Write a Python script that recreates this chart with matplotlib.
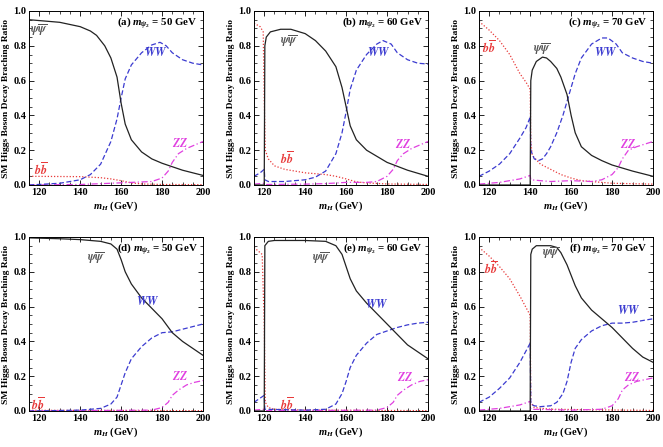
import matplotlib
matplotlib.use("Agg")
import matplotlib.pyplot as plt
from matplotlib.ticker import MultipleLocator, FormatStrFormatter

plt.rcParams['font.family'] = ['Liberation Serif', 'DejaVu Serif']
plt.rcParams['font.weight'] = 'bold'
plt.rcParams['mathtext.fontset'] = 'custom'
plt.rcParams['mathtext.it'] = 'Liberation Serif:italic:bold'
plt.rcParams['mathtext.rm'] = 'Liberation Serif:bold'
plt.rcParams['mathtext.bf'] = 'Liberation Serif:bold'

# ---------------- data: panel (a) m=50, top row ----------------
a_psi_x = [115, 120, 130, 140, 145, 148, 152, 155, 158, 160, 162, 165, 170, 175, 180, 190, 200]
a_psi_y = [0.95, 0.945, 0.935, 0.91, 0.885, 0.86, 0.80, 0.73, 0.62, 0.47, 0.35, 0.26, 0.19, 0.15, 0.125, 0.085, 0.055]
a_ww_x = [115, 130, 140, 145, 150, 155, 158, 160, 162, 165, 170, 175, 179, 182, 185, 190, 195, 200]
a_ww_y = [0.0, 0.01, 0.03, 0.06, 0.12, 0.25, 0.38, 0.50, 0.61, 0.69, 0.76, 0.805, 0.82, 0.80, 0.76, 0.72, 0.70, 0.69]
a_zz_x = [115, 140, 155, 165, 175, 180, 183, 185, 188, 192, 196, 200]
a_zz_y = [0.0, 0.003, 0.01, 0.015, 0.02, 0.04, 0.08, 0.13, 0.18, 0.21, 0.23, 0.25]
a_bb_x = [115, 140, 150, 155, 160, 165, 170, 180, 200]
a_bb_y = [0.05, 0.048, 0.042, 0.035, 0.025, 0.012, 0.006, 0.003, 0.002]

# ---------------- panel (b) m=60 ----------------
b_psi_x = [115, 120, 120.3, 121, 123, 128, 133, 140, 145, 150, 155, 158, 160, 162, 165, 170, 180, 190, 200]
b_psi_y = [0.0, 0.0, 0.80, 0.85, 0.88, 0.895, 0.895, 0.87, 0.83, 0.77, 0.68, 0.56, 0.45, 0.34, 0.26, 0.20, 0.13, 0.085, 0.05]
b_ww_x = [115, 118, 120, 120.3, 122, 130, 140, 145, 150, 155, 158, 160, 162, 165, 170, 175, 178, 182, 185, 190, 195, 200]
b_ww_y = [0.05, 0.07, 0.09, 0.03, 0.02, 0.02, 0.03, 0.045, 0.08, 0.18, 0.30, 0.42, 0.55, 0.66, 0.75, 0.81, 0.83, 0.81, 0.76, 0.72, 0.70, 0.695]
b_zz_x = [115, 120, 121, 140, 150, 160, 170, 175, 180, 183, 185, 188, 192, 196, 200]
b_zz_y = [0.005, 0.01, 0.003, 0.005, 0.008, 0.015, 0.015, 0.02, 0.05, 0.09, 0.14, 0.18, 0.21, 0.23, 0.25]
b_bb_x = [115, 118, 119.5, 120, 120.5, 122, 125, 130, 140, 150, 155, 160, 165, 170, 180, 200]
b_bb_y = [0.93, 0.91, 0.88, 0.5, 0.2, 0.15, 0.11, 0.09, 0.07, 0.06, 0.05, 0.035, 0.018, 0.012, 0.006, 0.003]

# ---------------- panel (c) m=70 ----------------
c_psi_x = [115, 140, 140.3, 141, 143, 146, 148, 150, 153, 155, 158, 160, 162, 165, 170, 175, 180, 190, 200]
c_psi_y = [0.0, 0.0, 0.60, 0.66, 0.71, 0.735, 0.73, 0.71, 0.67, 0.62, 0.52, 0.40, 0.30, 0.22, 0.17, 0.14, 0.115, 0.08, 0.05]
c_ww_x = [115, 120, 125, 130, 135, 138, 140, 140.3, 142, 144, 146, 148, 150, 153, 156, 158, 160, 162, 165, 170, 175, 178, 182, 185, 190, 195, 200]
c_ww_y = [0.05, 0.08, 0.12, 0.18, 0.27, 0.33, 0.39, 0.20, 0.15, 0.14, 0.15, 0.18, 0.22, 0.30, 0.40, 0.48, 0.56, 0.64, 0.73, 0.81, 0.845, 0.845, 0.81, 0.76, 0.73, 0.71, 0.70]
c_zz_x = [115, 125, 135, 140, 140.3, 145, 150, 160, 170, 175, 180, 183, 185, 188, 192, 196, 200]
c_zz_y = [0.005, 0.015, 0.035, 0.055, 0.03, 0.025, 0.02, 0.025, 0.02, 0.03, 0.06, 0.10, 0.15, 0.20, 0.22, 0.235, 0.25]
c_bb_x = [115, 120, 125, 130, 135, 138, 140, 140.3, 141, 145, 150, 155, 160, 165, 170, 180, 200]
c_bb_y = [0.94, 0.89, 0.83, 0.75, 0.64, 0.59, 0.55, 0.25, 0.17, 0.12, 0.09, 0.06, 0.04, 0.025, 0.02, 0.01, 0.005]

# ---------------- panel (d) m=50, bottom row ----------------
d_psi_x = [115, 130, 140, 150, 155, 158, 160, 162, 165, 170, 175, 180, 185, 190, 195, 200]
d_psi_y = [0.995, 0.99, 0.985, 0.975, 0.96, 0.93, 0.87, 0.80, 0.73, 0.65, 0.59, 0.53, 0.45, 0.40, 0.36, 0.32]
d_ww_x = [115, 140, 150, 155, 158, 160, 162, 165, 170, 175, 180, 185, 190, 195, 200]
d_ww_y = [0.0, 0.005, 0.015, 0.04, 0.08, 0.15, 0.22, 0.30, 0.37, 0.42, 0.45, 0.455, 0.47, 0.485, 0.50]
d_zz_x = [115, 175, 180, 183, 185, 188, 192, 196, 200]
d_zz_y = [0.0, 0.005, 0.02, 0.05, 0.09, 0.12, 0.15, 0.165, 0.175]
d_bb_x = [115, 160, 200]
d_bb_y = [0.004, 0.003, 0.002]

# ---------------- panel (e) m=60 ----------------
e_psi_x = [115, 120, 120.3, 122, 125, 140, 150, 155, 158, 160, 162, 165, 170, 175, 180, 185, 190, 195, 200]
e_psi_y = [0.0, 0.0, 0.95, 0.975, 0.98, 0.98, 0.975, 0.95, 0.90, 0.83, 0.76, 0.69, 0.62, 0.56, 0.50, 0.44, 0.38, 0.34, 0.30]
e_ww_x = [115, 120, 120.3, 140, 150, 155, 158, 160, 162, 165, 170, 175, 180, 185, 190, 195, 200]
e_ww_y = [0.05, 0.09, 0.01, 0.005, 0.01, 0.04, 0.10, 0.17, 0.25, 0.32, 0.39, 0.44, 0.46, 0.48, 0.495, 0.505, 0.51]
e_zz_x = [115, 120, 121, 175, 180, 183, 185, 188, 192, 196, 200]
e_zz_y = [0.005, 0.01, 0.002, 0.005, 0.02, 0.05, 0.09, 0.12, 0.15, 0.17, 0.18]
e_bb_x = [115, 119, 120, 120.5, 122, 125, 140, 200]
e_bb_y = [0.94, 0.90, 0.5, 0.05, 0.02, 0.01, 0.005, 0.002]

# ---------------- panel (f) m=70 ----------------
f_psi_x = [115, 140, 140.3, 141, 143, 150, 153, 155, 158, 160, 162, 165, 170, 175, 180, 185, 190, 195, 200]
f_psi_y = [0.0, 0.0, 0.90, 0.93, 0.95, 0.95, 0.94, 0.91, 0.84, 0.78, 0.72, 0.65, 0.58, 0.53, 0.48, 0.42, 0.36, 0.31, 0.28]
f_ww_x = [115, 120, 125, 130, 135, 140, 140.3, 142, 145, 150, 153, 156, 158, 160, 162, 165, 170, 175, 180, 185, 190, 195, 200]
f_ww_y = [0.05, 0.08, 0.13, 0.19, 0.28, 0.39, 0.04, 0.03, 0.025, 0.03, 0.05, 0.10, 0.17, 0.28, 0.36, 0.41, 0.46, 0.49, 0.505, 0.505, 0.51, 0.52, 0.53]
f_zz_x = [115, 125, 135, 140, 140.3, 160, 175, 180, 183, 185, 188, 192, 196, 200]
f_zz_y = [0.005, 0.015, 0.035, 0.055, 0.01, 0.005, 0.01, 0.03, 0.07, 0.12, 0.15, 0.17, 0.18, 0.19]
f_bb_x = [115, 120, 125, 130, 135, 140, 140.3, 142, 150, 200]
f_bb_y = [0.94, 0.89, 0.83, 0.76, 0.66, 0.55, 0.05, 0.02, 0.01, 0.003]

panel_titles = ["(a) ", "(b) ", "(c) ", "(d) ", "(e) ", "(f) "]
panel_masses = ["50", "60", "70", "50", "60", "70"]

panels = [
    (a_psi_x, a_psi_y, a_ww_x, a_ww_y, a_zz_x, a_zz_y, a_bb_x, a_bb_y),
    (b_psi_x, b_psi_y, b_ww_x, b_ww_y, b_zz_x, b_zz_y, b_bb_x, b_bb_y),
    (c_psi_x, c_psi_y, c_ww_x, c_ww_y, c_zz_x, c_zz_y, c_bb_x, c_bb_y),
    (d_psi_x, d_psi_y, d_ww_x, d_ww_y, d_zz_x, d_zz_y, d_bb_x, d_bb_y),
    (e_psi_x, e_psi_y, e_ww_x, e_ww_y, e_zz_x, e_zz_y, e_bb_x, e_bb_y),
    (f_psi_x, f_psi_y, f_ww_x, f_ww_y, f_zz_x, f_zz_y, f_bb_x, f_bb_y),
]

# label positions (data coords): psi, WW, ZZ, bb
label_pos = [
    [(120, 0.89), (177, 0.76), (189, 0.24), (121, 0.09)],
    [(132, 0.83), (176, 0.76), (188, 0.23), (131, 0.15)],
    [(146, 0.78), (177, 0.76), (188, 0.23), (120, 0.79)],
    [(148, 0.88), (173, 0.63), (189, 0.20), (119.5, 0.04)],
    [(148, 0.88), (175, 0.61), (189, 0.19), (131, 0.04)],
    [(150, 0.91), (188, 0.58), (190, 0.19), (121, 0.82)],
]

W, H = 663, 447
fig = plt.figure(figsize=(W / 100, H / 100), dpi=100)
lefts = [29, 254, 479]
tops = [11, 237]
aw, ah = 174, 174

psi_c = '#222222'
ww_c = '#3b3bd0'
zz_c = '#e040e0'
bb_c = '#e83a3a'

for i, data in enumerate(panels):
    r, c = divmod(i, 3)
    l = lefts[c]
    t = tops[r]
    ax = fig.add_axes([l / W, 1 - (t + ah) / H, aw / W, ah / H])
    psx, psy, wwx, wwy, zzx, zzy, bbx, bby = data
    ax.plot(bbx, bby, color=bb_c, ls=(0, (1, 1.5)), lw=0.9)
    ax.plot(zzx, zzy, color=zz_c, ls=(0, (5, 2, 1, 2)), lw=0.9)
    ax.plot(wwx, wwy, color=ww_c, ls=(0, (4, 2)), lw=0.9)
    ax.plot(psx, psy, color=psi_c, ls='-', lw=0.9)
    ax.set_xlim(115, 200)
    ax.set_ylim(0, 1)
    ax.xaxis.set_major_locator(MultipleLocator(20))
    ax.xaxis.set_minor_locator(MultipleLocator(5))
    ax.yaxis.set_major_locator(MultipleLocator(0.2))
    ax.yaxis.set_minor_locator(MultipleLocator(0.05))
    ax.tick_params(which='both', direction='in', top=True, right=True, labelsize=7.5, pad=2)
    ax.tick_params(which='major', length=3.5, width=0.6)
    ax.tick_params(which='minor', length=2, width=0.5)
    ax.yaxis.set_major_formatter(FormatStrFormatter('%.1f'))
    for lab in ax.get_xticklabels() + ax.get_yticklabels():
        lab.set_fontweight('bold')
    for s in ax.spines.values():
        s.set_linewidth(0.7)
    ax.set_xlabel(r'$m_H$ (GeV)', fontsize=7.5, fontweight='bold', labelpad=2)
    ax.set_ylabel('SM Higgs Boson Decay Braching Ratio', fontsize=6.8, fontweight='bold', labelpad=2)
    ax.text(0.97, 0.93, panel_titles[i] + r'$m_{\psi_2}$' + ' = ' + panel_masses[i] + ' GeV',
            transform=ax.transAxes, ha='right', va='center', fontsize=7.8, fontweight='bold')
    lp = label_pos[i]
    ax.text(lp[0][0], lp[0][1], r'$\psi\overline{\psi}$', color='#555555', fontsize=8.5,
            ha='center', va='center', math_fontfamily='stix')
    ax.text(lp[1][0], lp[1][1], r'$WW$', color=ww_c, fontsize=8.5, ha='center', va='center',
            math_fontfamily='stix')
    ax.text(lp[2][0], lp[2][1], r'$ZZ$', color=zz_c, fontsize=8.5, ha='center', va='center',
            math_fontfamily='stix')
    ax.text(lp[3][0], lp[3][1], r'$b\overline{b}$', color=bb_c, fontsize=8.5, ha='center', va='center',
            math_fontfamily='stix')

fig.savefig('out.png', dpi=100)
